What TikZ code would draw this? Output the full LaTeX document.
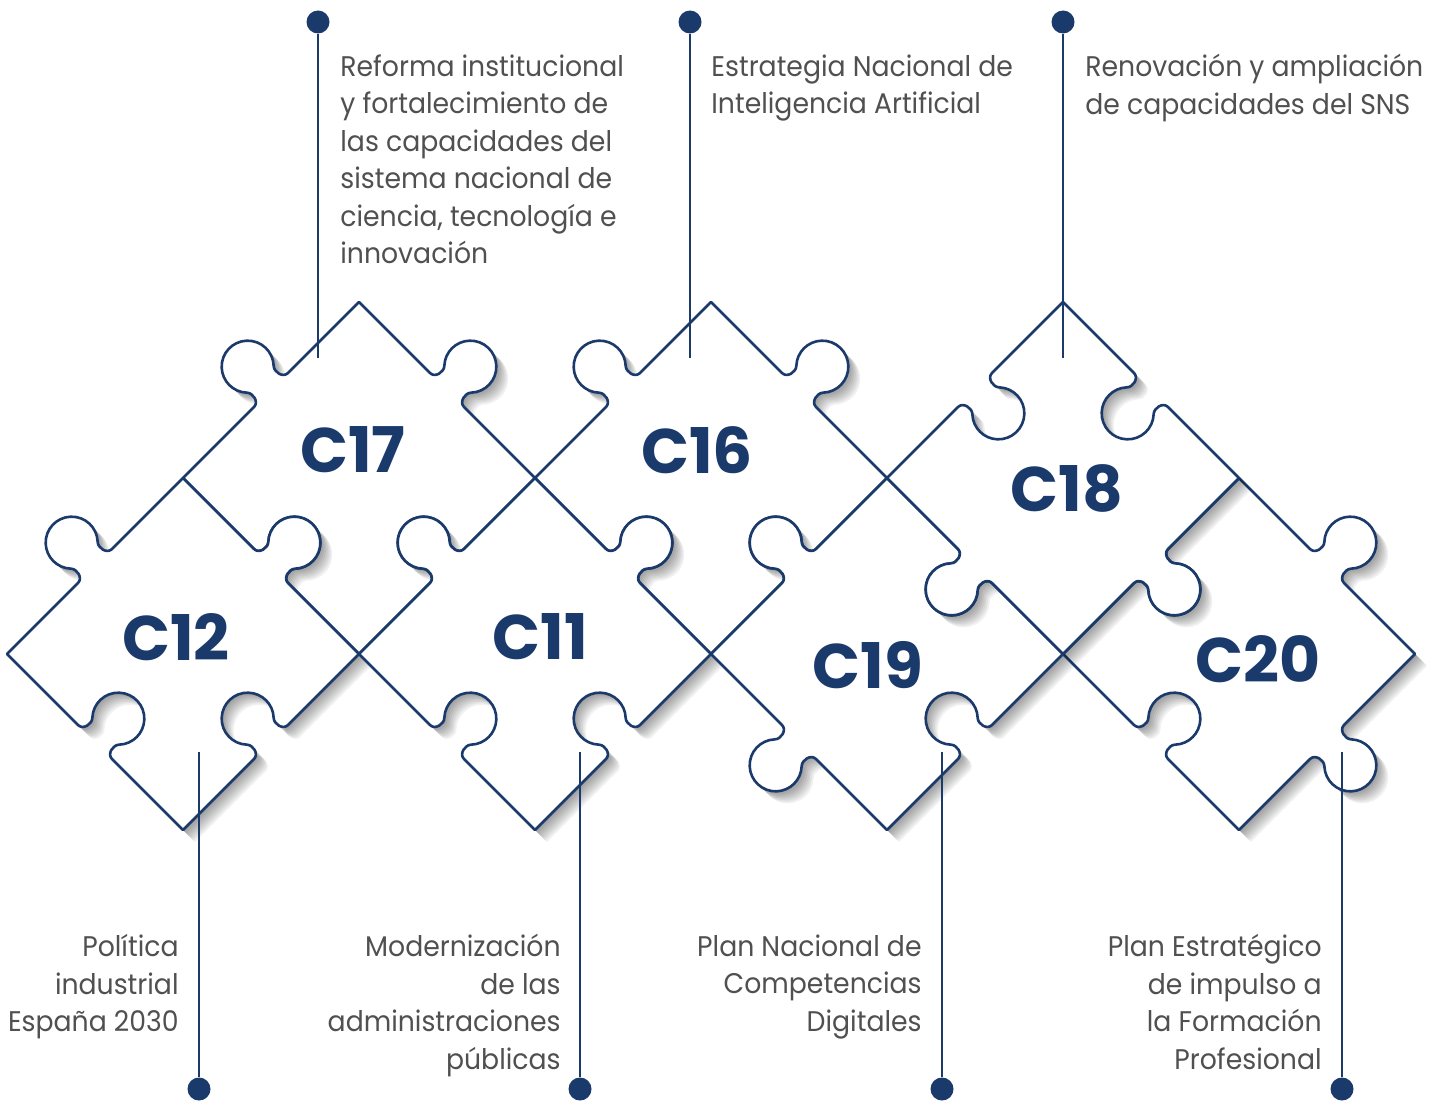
\documentclass[tikz,border=0pt]{standalone}
\usepackage{fontspec}
\setmainfont{Poppins}
\newfontfamily\notefont{Poppins}[FakeStretch=0.94]

\definecolor{navy}{HTML}{1A3A6C}
\definecolor{inkgray}{HTML}{505050}
\def\hh{124.45}

\tikzset{
  knob/.style={insert path={
      -- (-24,\hh)
      .. controls (-17,\hh) and (-14.5,{\hh+(#1)*10.5}) .. (-19,{\hh+(#1)*15.25})
      arc[start angle={(#1)*223.05}, end angle={(#1)*(-43.05)}, radius=26]
      .. controls (14.5,{\hh+(#1)*10.5}) and (17,\hh) .. (24,\hh)
      -- (\hh,\hh)}},
  piecepath/.style n args={4}{insert path={
      (-\hh,\hh) [knob=#3] [rotate=90] [knob=#2] [rotate=90] [knob=#1] [rotate=90] [knob=#4] -- cycle}},
  piece/.style={draw=navy, fill=white, line width=1.3pt, line join=round},
  shadowlayer/.style={fill=black, opacity=0.055},
  cnum/.style={font=\fontsize{31.5}{36}\selectfont\bfseries, text=navy, inner sep=0pt},
  note/.style={font=\notefont\fontsize{14.2}{18.75}\selectfont, text=inkgray, inner sep=0pt},
  dot/.style={circle, fill=navy, minimum size=11.5pt, inner sep=0pt},
  stem/.style={draw=navy, line width=1.2pt},
}

% centre, then knobs NW NE SE SW (1 out, -1 in)
\newcommand{\puzzle}[5]{%
  \foreach \o in {1.5,3,...,12}
    \fill[shadowlayer, shift={(#1)}, shift={(\o,\o)}, rotate=45] [piecepath={#2}{#3}{#4}{#5}];
  \filldraw[piece, shift={(#1)}, rotate=45] [piecepath={#2}{#3}{#4}{#5}];
}

\begin{document}
\begin{tikzpicture}[x=0.5pt, y=-0.5pt]
  \fill[white] (0,0) rectangle (1438,1102);
  \useasboundingbox (0,0) rectangle (1438,1102);

  % pieces, back to front
  \puzzle{359,478}{1}{1}{-1}{-1}
  \puzzle{711,478}{1}{1}{-1}{-1}
  \puzzle{183,654}{1}{1}{-1}{-1}
  \puzzle{535,654}{1}{1}{-1}{-1}
  \puzzle{887,654}{1}{-1}{-1}{1}
  \puzzle{1239,654}{-1}{1}{1}{-1}
  \puzzle{1063,478}{-1}{-1}{1}{1}

  \node[cnum] (c17) at (353,450) {C17};
  \node[cnum] (c16) at (697,450) {C16};
  \node[cnum] (c18) at (1067,488) {C18};
  \node[cnum] (c12) at (176,637) {C12};
  \node[cnum] (c11) at (540,637) {C11};
  \node[cnum] (c19) at (868,665) {C19};
  \node[cnum] (c20) at (1258,659) {C20};

  % stems to the top
  \node[dot] (d17) at (318,22) {};
  \node[dot] (d16) at (690,22) {};
  \node[dot] (d18) at (1063,22) {};
  \coordinate (e17) at (318,358);
  \coordinate (e16) at (690,358);
  \coordinate (e18) at (1063,358);
  \draw[stem] (d17) -- (e17);
  \draw[stem] (d16) -- (e16);
  \draw[stem] (d18) -- (e18);

  % stems to the bottom
  \node[dot] (d12) at (199,1089) {};
  \node[dot] (d11) at (580,1089) {};
  \node[dot] (d19) at (942,1089) {};
  \node[dot] (d20) at (1342,1089) {};
  \coordinate (e12) at (199,752);
  \coordinate (e11) at (580,752);
  \coordinate (e19) at (942,752);
  \coordinate (e20) at (1342,752);
  \draw[stem] (e12) -- (d12);
  \draw[stem] (e11) -- (d11);
  \draw[stem] (e19) -- (d19);
  \draw[stem] (e20) -- (d20);

  \node[note, anchor=north west, align=left] (t17) at (340,54)
    {Reforma institucional\\y fortalecimiento de\\las capacidades del\\sistema nacional de\\ciencia, tecnología e\\innovación};
  \node[note, anchor=north west, align=left] (t16) at (711,54)
    {Estrategia Nacional de\\Inteligencia Artificial};
  \node[note, anchor=north west, align=left] (t18) at (1085,54)
    {Renovación y ampliación\\de capacidades del SNS};

  \node[note, anchor=north east, align=right] (t12) at (179,934)
    {Política\\industrial\\España 2030};
  \node[note, anchor=north east, align=right] (t11) at (561,934)
    {Modernización\\de las\\administraciones\\públicas};
  \node[note, anchor=north east, align=right] (t19) at (922,934)
    {Plan Nacional de\\Competencias\\Digitales};
  \node[note, anchor=north east, align=right] (t20) at (1322,934)
    {Plan Estratégico\\de impulso a\\la Formación\\Profesional};
\end{tikzpicture}
\end{document}
